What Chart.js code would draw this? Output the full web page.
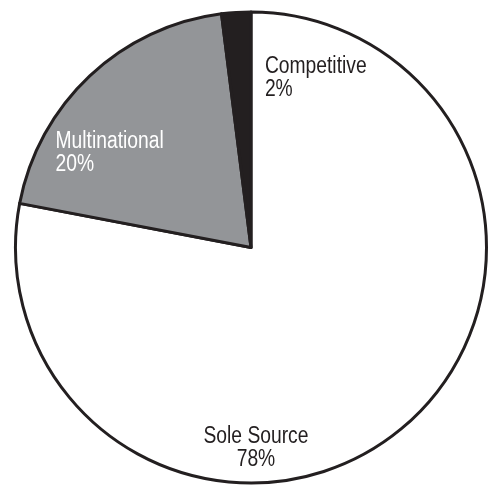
<!DOCTYPE html>
<html>
<head>
<meta charset="utf-8">
<script src="https://cdn.jsdelivr.net/npm/chart.js@4/dist/chart.umd.min.js"></script>
<style>
    html, body { margin: 0; padding: 0; background: #FFFFFF; }
    #wrap { width: 488px; height: 485px; position: relative; }
</style>
</head>
<body>
<div id="wrap"><canvas id="contractChart"></canvas></div>
<script>
"use strict";

// Chart data.
const categories = ["Sole Source", "Multinational", "Competitive"];
const shares = [78, 20, 2];
const shareLabels = ["78%", "20%", "2%"];

// Slice colours, same order as categories.
const sliceColors = ["#FFFFFF", "#939598", "#231F20"];
const textColors = ["#231F20", "#FFFFFF", "#231F20"];

/**
 * Where each label sits, as a fraction of the pie radius
 * measured from the pie centre (x to the text anchor,
 * y to the first baseline), plus the text alignment.
 */
const labelPlacement = [
    { dx: 0.021, dy: 0.83, align: "center" },
    { dx: -0.83, dy: -0.424, align: "left" },
    { dx: 0.059, dy: -0.74, align: "left" }
];

// No condensed face is installed, so a regular face is squeezed.
const labelFont = "23.5px 'Liberation Sans', Arial, sans-serif";
const squeeze = 0.82;
const lineHeight = 23;

// Draws the two-line labels inside the slices.
const sliceLabels = {
    id: "sliceLabels",
    afterDatasetsDraw(chart) {
        const ctx = chart.ctx;
        const arcs = chart.getDatasetMeta(0).data;

        arcs.forEach((arc, i) => {
            const r = arc.outerRadius;
            const place = labelPlacement[i];
            const x = arc.x + place.dx * r;
            const y = arc.y + place.dy * r;

            ctx.save();
            ctx.translate(x, y);
            ctx.scale(squeeze, 1);
            ctx.font = labelFont;
            ctx.textBaseline = "alphabetic";
            ctx.fillStyle = textColors[i];
            ctx.textAlign = place.align;
            ctx.fillText(categories[i], 0, 0);
            ctx.fillText(shareLabels[i], 0, lineHeight);
            ctx.restore();
        });
    }
};

const canvas = document.querySelector("#contractChart");

new Chart(canvas, {
    type: "pie",
    data: {
        labels: categories,
        datasets: [
            {
                data: shares,
                backgroundColor: sliceColors,
                borderColor: "#231F20",
                borderWidth: 3,
                borderJoinStyle: "round"
            }
        ]
    },
    options: {
        responsive: true,
        maintainAspectRatio: false,
        animation: false,
        layout: {
            padding: { left: 14, right: 0, top: 10, bottom: 0 }
        },
        plugins: {
            legend: { display: false },
            tooltip: { enabled: false }
        }
    },
    plugins: [sliceLabels]
});
</script>
</body>
</html>
